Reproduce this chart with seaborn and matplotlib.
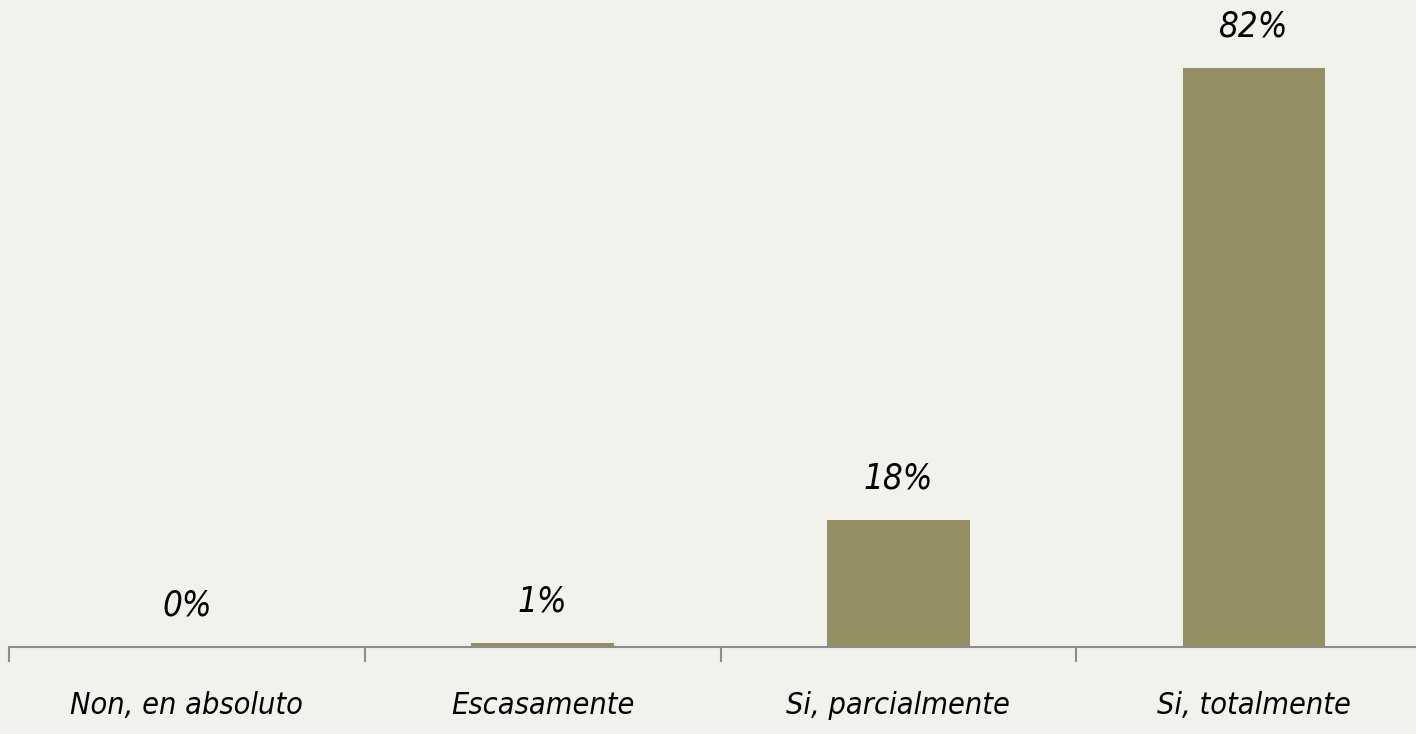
import pandas as pd
import matplotlib.pyplot as plt
import seaborn as sns

# ------------------------------
# Data
# ------------------------------
categories = ['Non, en absoluto', 'Escasamente', 'Si, parcialmente', 'Si, totalmente']
values = [0.0, 0.6, 18.0, 82.0]
labels = ['0%', '1%', '18%', '82%']

df = pd.DataFrame({'cat': categories, 'val': values})

bg = '#F2F2EC'
bar_color = '#938F62'
axis_color = '#8C8C8C'

sns.set_style('white')
plt.rcParams['font.family'] = ['DejaVu Sans']

fig = plt.figure(figsize=(14.16, 7.34), dpi=100, facecolor=bg)
# axes runs slightly past the right edge, like the original
ax = fig.add_axes([9 / 1416, 87 / 734, 1423 / 1416, 647 / 734])
ax.set_facecolor(bg)

sns.barplot(data=df, x='cat', y='val', color=bar_color, width=0.4,
            saturation=1, linewidth=0, ax=ax)

ax.set_xlim(-0.5, 3.5)
ax.set_ylim(0, 91.6)

text_kw = dict(fontstyle='italic', fontstretch='condensed', color='black')
for i, (v, lab) in enumerate(zip(values, labels)):
    ax.annotate(lab, (i, v), xytext=(0, 30), textcoords='offset points',
                ha='center', va='center', fontsize=25, **text_kw)

ax.set_xticks([-0.5, 0.5, 1.5, 2.5, 3.5])
ax.set_xticklabels([])
ax.set_xticks(range(len(categories)), minor=True)
ax.set_xticklabels(categories, minor=True, fontsize=22, **text_kw)
ax.tick_params(axis='x', which='major', bottom=True, length=11, width=1.5,
               color=axis_color, direction='out')
ax.tick_params(axis='x', which='minor', bottom=True, length=0, pad=32)
ax.set_yticks([])
ax.set_xlabel('')
ax.set_ylabel('')

for s in ['top', 'right', 'left']:
    ax.spines[s].set_visible(False)
ax.spines['bottom'].set_color(axis_color)
ax.spines['bottom'].set_linewidth(1.5)

fig.savefig('out.png', dpi=100, facecolor=bg)
plt.close(fig)
